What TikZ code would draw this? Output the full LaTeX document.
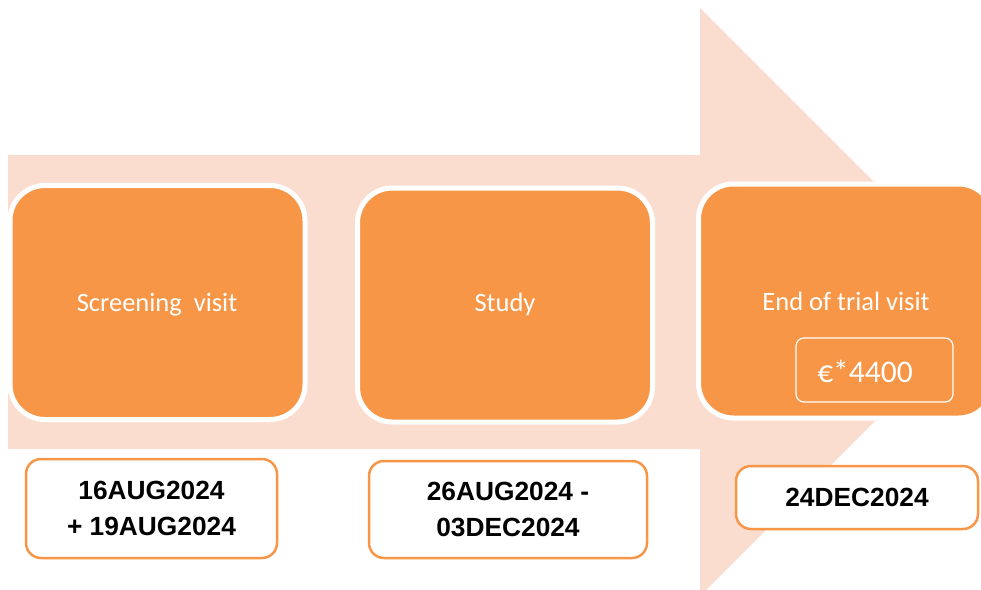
\documentclass[tikz,border=0pt]{standalone}
\usepackage{fontspec}
\setmainfont{Carlito}
\newfontfamily\datefont{Liberation Sans}
\definecolor{arrowpink}{HTML}{FBDDD0}
\definecolor{steporange}{HTML}{F79646}

\begin{document}
\begin{tikzpicture}[x=1pt,y=-1pt,
  stepbox/.style={fill=steporange,draw=white,line width=5pt,rounded corners=35pt,
    minimum width=295pt,minimum height=234pt,inner sep=0pt},
  steptext/.style={text=white,font=\fontsize{26.5}{30}\selectfont},
  datebox/.style={fill=white,draw=steporange,line width=2.5pt,rounded corners=15pt,
    inner sep=0pt,align=center,font=\datefont\bfseries\fontsize{26.3}{36}\selectfont}]
\newcommand{\tipX}{994} \newcommand{\neckX}{700}
  \useasboundingbox (0,0) rectangle (981,589);
  \clip (0,0) rectangle (981,589);

    % Big arrow
    \fill[arrowpink] (8,155) -- (\neckX,155) -- (\neckX,8) -- (\tipX,302)
      -- (\neckX,596) -- (\neckX,449) -- (8,449) -- cycle;

    % Steps
    \node[stepbox] (screening) at (157.5,302.5) {};
    \node[stepbox] (study) at (505,305) {};
    \node[stepbox] (endvisit) at (846,301) {};
    \node[steptext] (screeninglabel) at (157,305) {Screening~ visit};
    \node[steptext] (studylabel) at (505,304.5) {Study};
    \node[steptext] (endlabel) at (846,301) {End of trial visit};

    % Price
    \node[draw=white,line width=1.2pt,rounded corners=8pt,minimum width=157pt,
      minimum height=64pt] (pricebox) at (874.5,370) {};
    \node[text=white,font=\fontsize{31.5}{36}\selectfont] (price) at (865,371) {€*4400};

    % Dates
    \node[datebox,minimum width=251pt,minimum height=99pt] (screeningdate)
      at (151.5,508.5) {16AUG2024\\+ 19AUG2024};
    \node[datebox,minimum width=278pt,minimum height=97pt] (studydate)
      at (508,509.5) {26AUG2024 -\\03DEC2024};
    \node[datebox,minimum width=242pt,minimum height=63pt] (enddate)
      at (857,497.5) {24DEC2024};
\end{tikzpicture}
\end{document}
